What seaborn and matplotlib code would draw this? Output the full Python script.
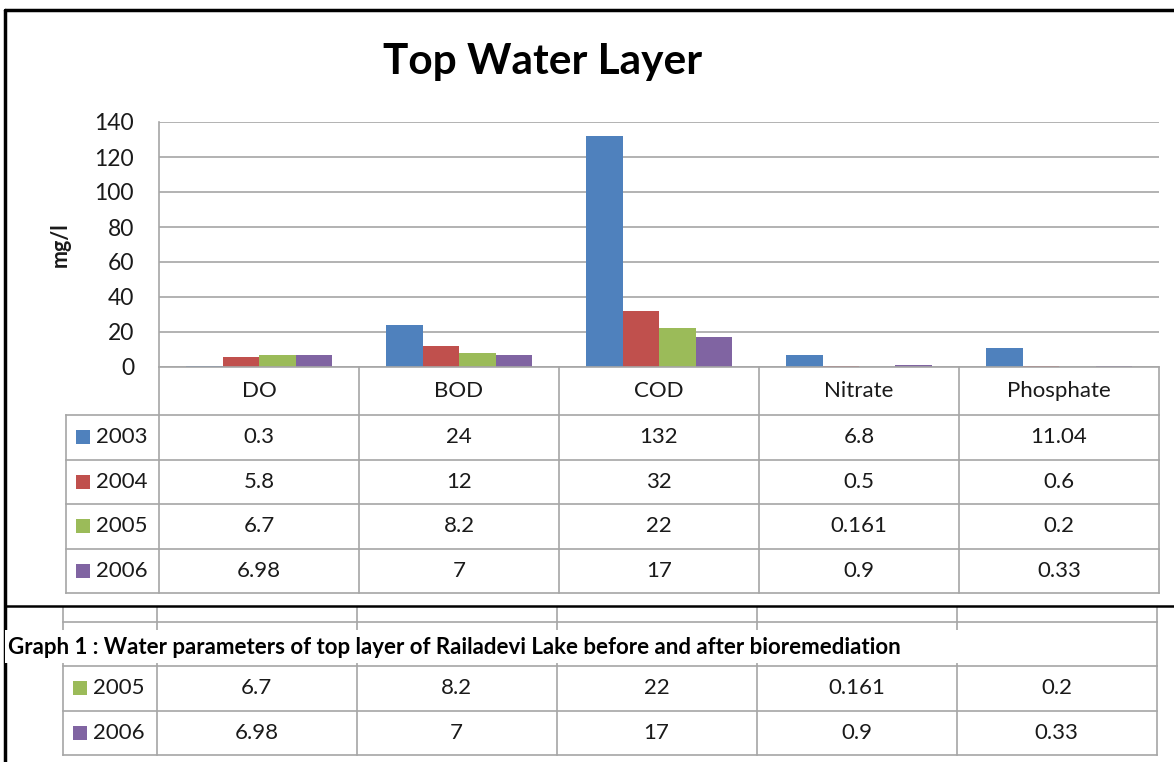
import numpy as np
import pandas as pd
import matplotlib
matplotlib.use("Agg")
import matplotlib.pyplot as plt
from matplotlib.lines import Line2D
from matplotlib.patches import Rectangle
import seaborn as sns

# chart data
parameters = ["DO", "BOD", "COD", "Nitrate", "Phosphate"]
years = ["2003", "2004", "2005", "2006"]
v2003 = [0.3, 24, 132, 6.8, 11.04]
v2004 = [5.8, 12, 32, 0.5, 0.6]
v2005 = [6.7, 8.2, 22, 0.161, 0.2]
v2006 = [6.98, 7, 17, 0.9, 0.33]
yticks = [0, 20, 40, 60, 80, 100, 120, 140]
colors = ["#4F81BD", "#C0504D", "#9BBB59", "#8064A2"]
title = "Top Water Layer"
ylabel = "mg/l"
caption = "Graph 1 : Water parameters of top layer of Railadevi Lake before and after bioremediation"

series = [v2003, v2004, v2005, v2006]
df = pd.DataFrame([{"Parameter": p, "Year": y, "Value": v}
                   for y, vals in zip(years, series)
                   for p, v in zip(parameters, vals)])

sns.set_theme(style="white")
plt.rcParams["font.family"] = ["Lato", "DejaVu Sans"]

W, H = 1174, 762
fig = plt.figure(figsize=(W / 100, H / 100), dpi=100)
fig.patch.set_facecolor("white")

grid_c = "#a6a6a6"
text_c = "#1a1a1a"
col_px = 200.0    # width of one category column in pixels
row_px = 44.5     # height of one table row in pixels
hdr = 48 / row_px  # header row height in row units


def px(x0, y0, x1, y1):
    # pixel box (origin top-left) -> figure rect
    return [x0 / W, 1 - y1 / H, (x1 - x0) / W, (y1 - y0) / H]


# bar chart
ax = fig.add_axes(px(159, 122, 1159, 367))
sns.barplot(data=df, x="Parameter", y="Value", hue="Year", palette=colors,
            width=0.73, saturation=1, linewidth=0, legend=False, ax=ax)
ax.set_ylim(0, 140)
ax.set_xlim(-0.5, len(parameters) - 0.5)
ax.set_yticks(yticks)
ax.yaxis.grid(True, color=grid_c, lw=1.2)
ax.set_axisbelow(True)
for s in ["top", "right", "bottom"]:
    ax.spines[s].set_visible(False)
ax.spines["left"].set_color(grid_c)
ax.spines["left"].set_linewidth(1.2)
ax.tick_params(axis="y", length=0, pad=18, labelsize=16.5, labelcolor=text_c)
ax.tick_params(axis="x", length=0, labelbottom=False)
ax.set_xlabel("")
ax.set_ylabel(ylabel, fontsize=15.5, fontweight="bold", color=text_c)
ax.yaxis.set_label_coords(-0.088, 0.5)
ax.patch.set_alpha(0)

fig.text(543 / W, 1 - 62 / H, title, ha="center", va="center",
         fontsize=30.5, fontweight="bold", color="black")


def draw_table(box, origin, label_rows, show_header=True):
    # box: axes pixel box, origin: pixel position of (left of first category, header top)
    x0, y0, x1, y1 = box
    ox, oy = origin
    tax = fig.add_axes(px(x0, y0, x1, y1))
    tax.set_xlim((x0 - ox) / col_px - 0.5, (x1 - ox) / col_px - 0.5)
    tax.set_ylim((y1 - oy) / row_px, (y0 - oy) / row_px)
    tax.axis("off")
    n = len(parameters)
    leg_w = (159 - 66) / col_px
    left = -0.5 - leg_w
    bottom = hdr + len(years)
    kw = dict(color=grid_c, lw=1.2, solid_capstyle="projecting")
    for i in range(n + 1):
        tax.plot([i - 0.5, i - 0.5], [0, bottom], **kw)
    tax.plot([left, left], [hdr, bottom], **kw)
    tax.plot([-0.5, n - 0.5], [0, 0], **kw)
    for r in range(len(years) + 1):
        tax.plot([left, n - 0.5], [hdr + r, hdr + r], **kw)
    tkw = dict(ha="center", va="center", fontsize=16, color=text_c, clip_on=True)
    if show_header:
        for i, p in enumerate(parameters):
            tax.text(i, hdr / 2, p, **tkw)
    for r, (yr, vals) in enumerate(zip(years, series)):
        if yr not in label_rows:
            continue
        yc = hdr + r + 0.5
        for i, v in enumerate(vals):
            tax.text(i, yc, f"{v:g}", **tkw)
        tax.text(left + 0.15, yc, yr, ha="left", va="center", fontsize=16,
                 color=text_c, clip_on=True)
        tax.scatter([left + 0.085], [yc], color=colors[r], marker="s", s=100,
                    linewidths=0, clip_on=True)
    return tax


draw_table((55, 360, 1166, 600), (159, 367), years)
# copy of the table further down the page, cut off by the chart frame
# and partly hidden under the caption
draw_table((55, 606, 1166, 760), (156.5, 529), ["2003", "2005", "2006"],
           show_header=False)

# caption band over the lower table
fig.add_artist(Rectangle((5 / W, 1 - 663 / H), 1095 / W, 33 / H,
                         transform=fig.transFigure, facecolor="white",
                         edgecolor="none", zorder=4))
fig.text(8 / W, 1 - 648 / H, caption, ha="left", va="center", fontsize=16,
         fontweight="bold", color="black", zorder=5)

# chart frame
fk = dict(transform=fig.transFigure, color="black")
fig.add_artist(Line2D([5 / W, 5 / W], [0, 1 - 10 / H], lw=2.5, **fk))
fig.add_artist(Line2D([5 / W, 1], [1 - 10 / H, 1 - 10 / H], lw=2.5, **fk))
fig.add_artist(Line2D([5 / W, 1], [1 - 606 / H, 1 - 606 / H], lw=1.8, **fk))

fig.savefig("out.png", dpi=100, facecolor="white")
